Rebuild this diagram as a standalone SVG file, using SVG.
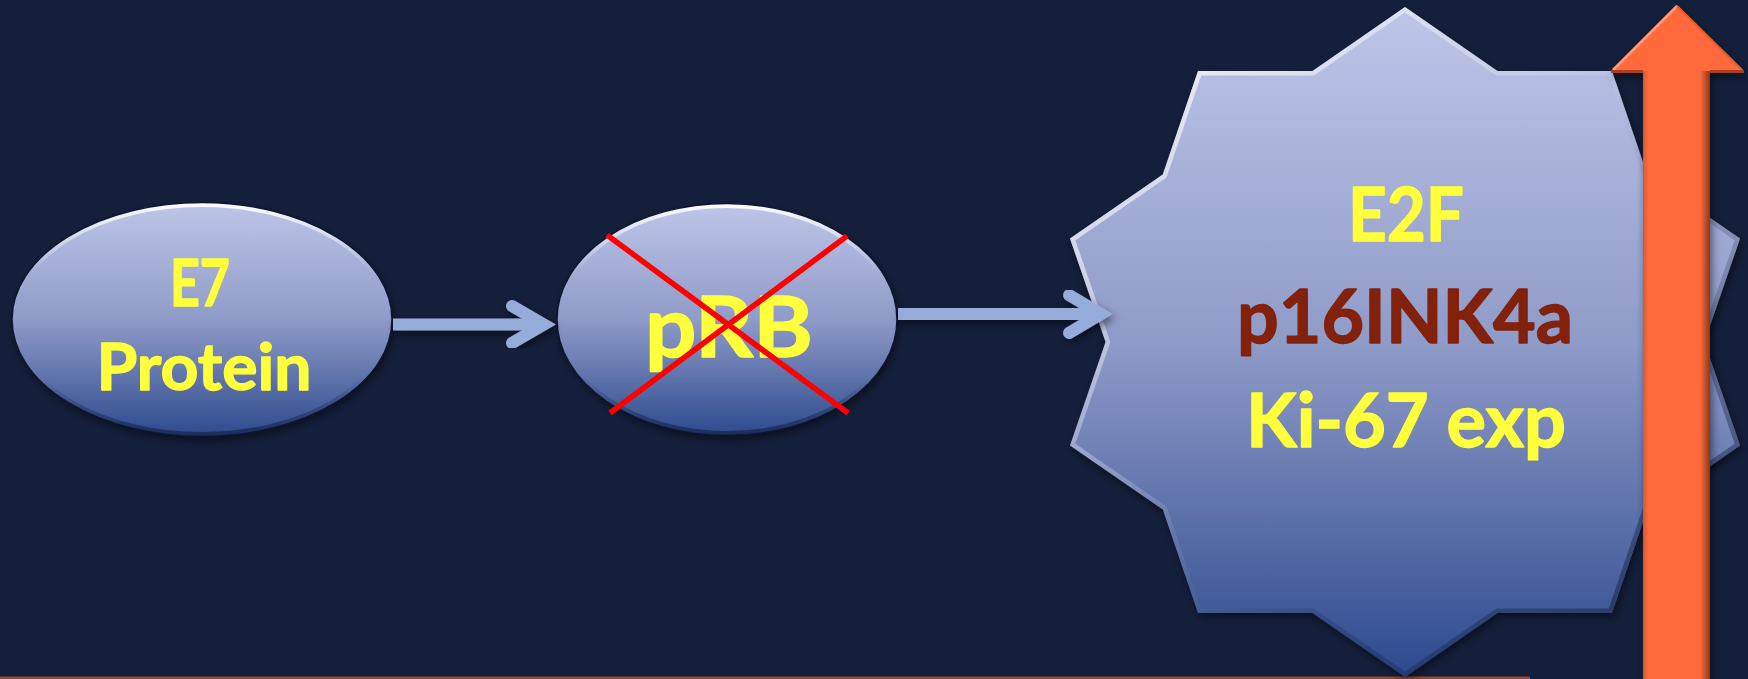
<svg xmlns="http://www.w3.org/2000/svg" width="1748" height="679" viewBox="0 0 1748 679">
<style>
.t{font-family:Lato,"Liberation Sans",sans-serif;font-weight:700;text-anchor:middle;stroke-width:1.4;stroke-linejoin:round}
.y{fill:#ffff3c;stroke:#ffff3c}
.r{fill:#82210c;stroke:#82210c}
.conn{stroke:#95abd9;stroke-width:12;fill:none}
.head{stroke-linecap:round;stroke-linejoin:miter}
.xline{stroke:#ff0000;stroke-width:5.5;stroke-linecap:butt}
.outline{fill:none;stroke:#0c1630;stroke-width:1.5}
</style>
<defs>
<linearGradient id="gFill" x1="0" y1="0" x2="0" y2="1">
<stop offset="0" stop-color="#bec6e8"/>
<stop offset="0.5" stop-color="#8f9bc8"/>
<stop offset="1" stop-color="#2d4a8e"/>
</linearGradient>
<linearGradient id="gRim" x1="0" y1="0" x2="0" y2="1">
<stop offset="0" stop-color="#ffffff" stop-opacity="0.95"/>
<stop offset="0.3" stop-color="#ffffff" stop-opacity="0"/>
<stop offset="0.75" stop-color="#0a1430" stop-opacity="0"/>
<stop offset="1" stop-color="#0a1430" stop-opacity="0.55"/>
</linearGradient>
<linearGradient id="gStarRim" gradientUnits="userSpaceOnUse" x1="1070" y1="7" x2="1740" y2="677">
<stop offset="0" stop-color="#ffffff" stop-opacity="0.9"/>
<stop offset="0.45" stop-color="#ffffff" stop-opacity="0.1"/>
<stop offset="0.6" stop-color="#0a1430" stop-opacity="0.1"/>
<stop offset="1" stop-color="#0a1430" stop-opacity="0.6"/>
</linearGradient>
<linearGradient id="gShaft" x1="0" y1="0" x2="1" y2="0">
<stop offset="0" stop-color="#d9552d"/>
<stop offset="0.08" stop-color="#ff6b3d"/>
<stop offset="0.85" stop-color="#ff6b3d"/>
<stop offset="1" stop-color="#8f3618"/>
</linearGradient>
<filter id="shadow" x="-10%" y="-10%" width="120%" height="120%">
<feDropShadow dx="2" dy="4" stdDeviation="4" flood-color="#000000" flood-opacity="0.5"/>
</filter>
<clipPath id="clipE7"><ellipse cx="202" cy="319.5" rx="190" ry="117"/></clipPath>
<clipPath id="clipPRB"><ellipse cx="727" cy="319.5" rx="170" ry="116"/></clipPath>
<clipPath id="clipStar"><polygon points="1405,7 1497.5,71 1612,71 1647.2,174.6 1740,238.5 1704.4,342 1740,445.5 1647.2,509.4 1612,613 1497.5,613 1405,677 1312.5,613 1198,613 1162.8,509.4 1070,445.5 1105.6,342 1070,238.5 1162.8,174.6 1198,71 1312.5,71"/></clipPath>
</defs>

<rect x="0" y="0" width="1748" height="679" fill="#141f3b"/>
<rect x="0" y="676.5" width="1530" height="2.5" fill="#984834"/>

<g id="node-e7">
<ellipse cx="202" cy="319.5" rx="190" ry="117" fill="url(#gFill)" filter="url(#shadow)"/>
<ellipse cx="202" cy="319.5" rx="190" ry="117" fill="none" stroke="url(#gRim)" stroke-width="9" clip-path="url(#clipE7)"/>
<ellipse cx="202" cy="319.5" rx="190" ry="117" class="outline"/>
<text class="t y" x="200" y="306" font-size="65" textLength="60" lengthAdjust="spacingAndGlyphs">E7</text>
<text class="t y" x="204" y="390" font-size="65" textLength="215" lengthAdjust="spacingAndGlyphs">Protein</text>
</g>

<g id="node-prb">
<ellipse cx="727" cy="319.5" rx="170" ry="116" fill="url(#gFill)" filter="url(#shadow)"/>
<ellipse cx="727" cy="319.5" rx="170" ry="116" fill="none" stroke="url(#gRim)" stroke-width="9" clip-path="url(#clipPRB)"/>
<ellipse cx="727" cy="319.5" rx="170" ry="116" class="outline"/>
<text class="t y" x="729" y="357" font-size="85" textLength="168" lengthAdjust="spacingAndGlyphs">pRB</text>
<line class="xline" x1="607" y1="235" x2="848" y2="413"/>
<line class="xline" x1="847" y1="236" x2="610" y2="413"/>
</g>

<g id="node-e2f">
<polygon points="1405,7 1497.5,71 1612,71 1647.2,174.6 1740,238.5 1704.4,342 1740,445.5 1647.2,509.4 1612,613 1497.5,613 1405,677 1312.5,613 1198,613 1162.8,509.4 1070,445.5 1105.6,342 1070,238.5 1162.8,174.6 1198,71 1312.5,71" fill="url(#gFill)" filter="url(#shadow)"/>
<polygon points="1405,7 1497.5,71 1612,71 1647.2,174.6 1740,238.5 1704.4,342 1740,445.5 1647.2,509.4 1612,613 1497.5,613 1405,677 1312.5,613 1198,613 1162.8,509.4 1070,445.5 1105.6,342 1070,238.5 1162.8,174.6 1198,71 1312.5,71" fill="none" stroke="url(#gStarRim)" stroke-width="9" stroke-linejoin="miter" clip-path="url(#clipStar)"/>
<text class="t y" x="1406" y="241" font-size="75" textLength="116" lengthAdjust="spacingAndGlyphs">E2F</text>
<text class="t r" x="1405" y="343" font-size="75" textLength="336" lengthAdjust="spacingAndGlyphs">p16INK4a</text>
<text class="t y" x="1406" y="447" font-size="75" textLength="320" lengthAdjust="spacingAndGlyphs">Ki-67 exp</text>
</g>

<g id="connectors" filter="url(#shadow)">
<line class="conn" x1="393" y1="324.5" x2="540" y2="324.5"/>
<polyline class="conn head" points="512,306 544,324.5 512,343"/>
<line class="conn" x1="898" y1="314" x2="1096" y2="314"/>
<polyline class="conn head" points="1069,295 1101,314 1069,333"/>
</g>

<g id="up-arrow" filter="url(#shadow)">
<polygon points="1677,5 1744,71 1710,71 1710,679 1643,679 1643,71 1611,71" fill="#ff6b3d"/>
<rect x="1643" y="71" width="67" height="608" fill="url(#gShaft)"/>
<line x1="1613" y1="70" x2="1677" y2="6" stroke="#ff9c74" stroke-width="2.5"/>
<line x1="1677" y1="6" x2="1742" y2="70" stroke="#e85a2e" stroke-width="2"/>
<line x1="1611" y1="71.5" x2="1643" y2="71.5" stroke="#a8401c" stroke-width="3"/>
<line x1="1710" y1="71.5" x2="1744" y2="71.5" stroke="#a8401c" stroke-width="3"/>
</g>
</svg>
